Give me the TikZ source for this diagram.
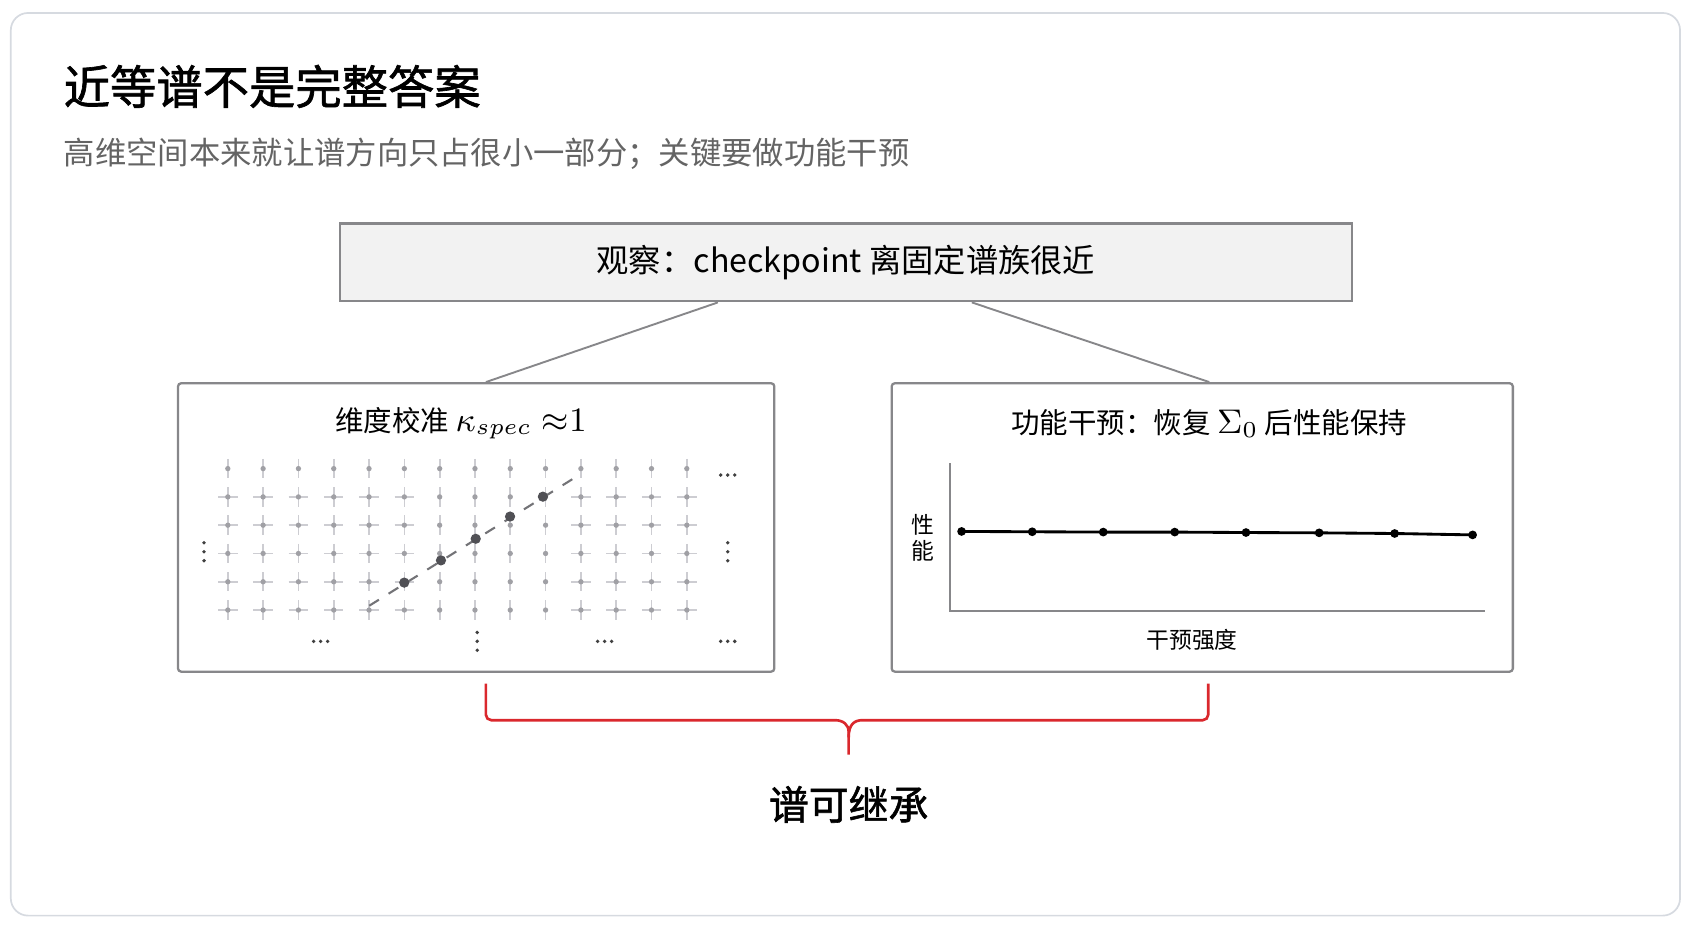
\documentclass[tikz,border=0pt]{standalone}
\usepackage[no-math]{fontspec}
\setmainfont{Noto Sans CJK SC}
\newfontfamily\headfont[FakeBold=1.4]{Noto Sans CJK SC}
\usetikzlibrary{positioning}

\definecolor{framegray}{RGB}{214,218,224}
\definecolor{boxgray}{RGB}{135,135,138}
\definecolor{boxfill}{RGB}{242,242,242}
\definecolor{subgray}{RGB}{100,100,100}
\definecolor{gridgray}{RGB}{205,205,210}
\definecolor{dotgray}{RGB}{160,160,165}
\definecolor{bigdot}{RGB}{80,80,85}
\definecolor{bracered}{RGB}{218,40,45}

\begin{document}
\begin{tikzpicture}[x=0.01cm, y=-0.01cm, semithick, node distance=1cm]
  \tikzstyle{panel}=[draw=boxgray, line width=0.6pt, fill=white, rounded corners=0.03cm,
                     minimum height=2.67cm, inner sep=0pt]
  \tikzstyle{link}=[draw=boxgray, line width=0.5pt]
  \tikzstyle{tick}=[draw=gridgray, line width=0.45pt]
  \tikzstyle{axis}=[draw=boxgray, line width=0.45pt]
  \tikzstyle{perf}=[draw=black, line width=0.75pt]
  \tikzstyle{brace}=[draw=bracered, line width=0.7pt]
  \tikzstyle{label}=[font=\fontsize{7.5pt}{9pt}\selectfont]
  \tikzstyle{small}=[font=\fontsize{6pt}{6.8pt}\selectfont]

  \useasboundingbox (0,0) rectangle (1568,860);
  \draw[framegray, line width=0.45pt, rounded corners=0.16cm] (10,12) rectangle (1556,848);

  % heading
  \node[anchor=west, inner sep=0pt, font=\fontsize{12.2pt}{14pt}\headfont] (title) at (58,80)
       {近等谱不是完整答案};
  \node[anchor=west, inner sep=0pt, text=subgray, font=\fontsize{8.25pt}{10pt}\selectfont] (sub) at (58,142)
       {高维空间本来就让谱方向只占很小一部分；关键要做功能干预};

  % boxes
  \node[draw=boxgray, line width=0.6pt, fill=boxfill, minimum width=9.37cm, minimum height=0.72cm,
        font=\fontsize{8.5pt}{10pt}\selectfont]
       (obs) at (783.5,243) {观察：checkpoint 离固定谱族很近};
  \node[panel, minimum width=5.52cm] (lbox) at (441,488.5) {};
  \node[panel, minimum width=5.75cm] (rbox) at (1113.5,488.5) {};

  \path[link] ([xshift=-1.185cm]obs.south) edge ([xshift=0.09cm]lbox.north)
              ([xshift=1.165cm]obs.south)  edge ([xshift=0.065cm]rbox.north);

  % left panel
  \node[label] (ltitle) at (427,392)
       {维度校准 {\fontsize{9pt}{10pt}\selectfont$\kappa_{spec}\;{\approx}1$}};
  \foreach \c in {0,...,13}
    \foreach \r in {0,...,5} {
      \pgfmathsetmacro{\gx}{211+32.7*\c}
      \pgfmathsetmacro{\gy}{434+26.2*\r}
      \draw[tick] (\gx,\gy-9) -- (\gx,\gy+9);
      \ifnum\r>0
        \ifnum\c<6 \draw[tick] (\gx-9,\gy) -- (\gx+9,\gy); \fi
        \ifnum\c>9 \draw[tick] (\gx-9,\gy) -- (\gx+9,\gy); \fi
      \fi
      \fill[dotgray] (\gx,\gy) circle (0.7pt);
    }
  \coordinate (d0) at (342,561);
  \coordinate (d6) at (533,442);
  \draw[bigdot!80, dashed, line width=0.55pt] (d0) -- (d6);
  \foreach \i/\px/\py in {1/374.4/539.6, 2/408.4/519, 3/440.6/499, 4/472.4/478.4, 5/502.8/460}
    \fill[bigdot] (\px,\py) circle (1.35pt) coordinate (d\i);

  % ellipsis marks
  \foreach \ex/\ey in {674/440, 297/594, 560/594, 674/594}
    \foreach \k in {-1,0,1}
      \fill[black!75] (\ex+6.5*\k,\ey) circle (0.5pt);
  \foreach \ex/\ey in {189/511, 674/511, 442/594}
    \foreach \k in {-1,0,1}
      \fill[black!75] (\ex,\ey+8.3*\k) circle (0.5pt);

  % right panel
  \node[label] (rtitle) at (1120,392)
       {功能干预：恢复 {\fontsize{9pt}{10pt}\selectfont$\Sigma_0$} 后性能保持};
  \draw[axis] (880,429) -- (880,566) -- (1375,566);
  \node[small, align=center, inner sep=0pt] (ylab) at (855,498) {性\\能};
  \node[small] (xlab) at (1104,593) {干预强度};
  \foreach \i/\px/\py in {1/890.6/492.2, 2/956/492.5, 3/1021.8/492.8, 4/1088/492.8,
                          5/1154/493.2, 6/1221.8/493.5, 7/1291.7/494.1, 8/1363.9/495.4}
    \coordinate (p\i) at (\px,\py);
  \draw[perf] (p1) -- (p2) -- (p3) -- (p4) -- (p5) -- (p6) -- (p7) -- (p8);
  \foreach \i in {1,...,8}
    \fill (p\i) circle (1.15pt);

  % brace
  \coordinate (bl) at ([xshift=0.09cm,yshift=-0.1cm]lbox.south);
  \coordinate (br) at ([xshift=0.055cm,yshift=-0.1cm]rbox.south);
  \coordinate (tip) at (786,699);
  \draw[brace, rounded corners=0.05cm] (bl) |- (768,667)
        .. controls (781,667) and (786,671) .. (786,683) -- (tip);
  \draw[brace, rounded corners=0.05cm] (br) |- (804,667)
        .. controls (791,667) and (786,671) .. (786,683);
  \node[font=\fontsize{10.5pt}{12pt}\headfont] (inh) at (786,745) {谱可继承};
\end{tikzpicture}
\end{document}
